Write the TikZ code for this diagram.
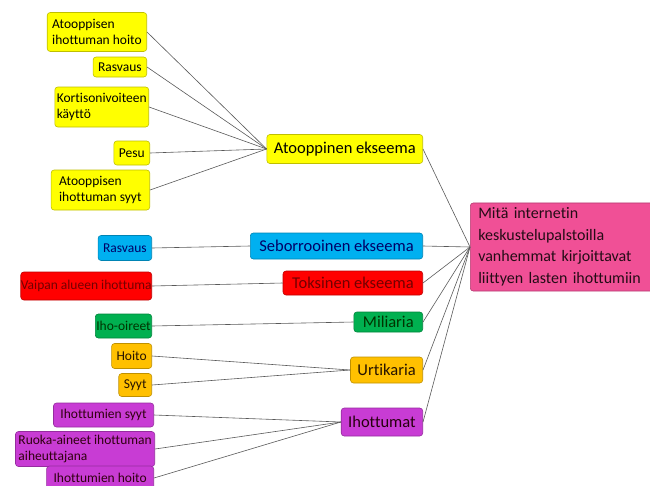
\documentclass[tikz,border=0pt]{standalone}
\usepackage{fontspec}
\setmainfont{Carlito}[Ligatures=NoCommon]
\definecolor{cyel}{RGB}{255,255,0}
\definecolor{cblue}{RGB}{0,176,240}
\definecolor{cred}{RGB}{255,0,0}
\definecolor{cgreen}{RGB}{0,176,80}
\definecolor{corange}{RGB}{255,192,0}
\definecolor{cpurple}{RGB}{200,60,212}
\definecolor{cpink}{RGB}{240,80,150}
\begin{document}
\begin{tikzpicture}[x=1pt, y=-1pt,
    box/.style={rectangle, rounded corners=3pt, draw=#1!75!black, fill=#1, line width=0.6pt},
    leaf/.style={box=#1, anchor=east, align=left, inner xsep=5pt, inner ysep=3pt,
        minimum height=23pt, font=\fontsize{13.5}{16}\selectfont},
    topic/.style={box=#1, anchor=east, inner xsep=7pt, inner ysep=3pt,
        minimum height=26pt, font=\fontsize{16.5}{19}\selectfont},
    link/.style={-, line width=0.6pt, black!65}
]

\useasboundingbox (0,0) rectangle (650,485);

% Main question
\node[box=cpink, anchor=west, align=left, text width=178pt, inner xsep=8pt, inner ysep=5pt,
    font=\fontsize{16}{21.5}\selectfont, text=black!85!cpink] (Q) at (470,247)
    {Mitä internetin\\keskustelupalstoilla\\vanhemmat kirjoittavat\\liittyen lasten ihottumiin};

% Topics
\node[topic=cyel, minimum height=29pt] (T1) at (423,149) {Atooppinen ekseema};
\node[topic=cblue, text=blue!40!black, inner xsep=9pt] (T2) at (423,246) {Seborrooinen ekseema};
\node[topic=cred, text=red!45!black, minimum height=24pt, inner xsep=9pt] (T3) at (423,283) {Toksinen ekseema};
\node[topic=cgreen, text=black!80!green, minimum height=20pt, inner xsep=9pt] (T4) at (423,322) {Miliaria};
\node[topic=corange, text=black!85!orange] (T5) at (423,370) {Urtikaria};
\node[topic=cpurple, text=black!80!purple, minimum height=28pt] (T6) at (423,422) {Ihottumat};

% Atooppinen ekseema
\node[leaf=cyel, minimum height=39pt] (A1) at (147,32) {Atooppisen\\ihottuman hoito};
\node[leaf=cyel, minimum height=20pt] (A2) at (147,67) {Rasvaus};
\node[leaf=cyel, minimum height=40pt, inner xsep=2pt] (A3) at (149,107) {Kortisonivoiteen\\käyttö};
\node[leaf=cyel, minimum height=24pt] (A4) at (150,153) {Pesu};
\node[leaf=cyel, minimum height=40pt, inner xsep=8pt] (A5) at (150,190) {Atooppisen\\ihottuman syyt};

% Other topics
\node[leaf=cblue, text=blue!40!black, minimum height=25pt] (B1) at (152,248) {Rasvaus};
\node[leaf=cred, text=red!45!black, minimum height=28pt, inner xsep=0pt] (C1) at (152,286) {Vaipan alueen ihottuma};
\node[leaf=cgreen, text=black!80!green, minimum height=24pt, inner xsep=1pt] (D1) at (152,326) {Iho-oireet};
\node[leaf=corange, text=black!85!orange, minimum height=25pt] (E1) at (152,356) {Hoito};
\node[leaf=corange, text=black!85!orange] (E2) at (152,385) {Syyt};
\node[leaf=cpurple, text=black!75!purple, minimum height=24pt, inner xsep=7pt] (F1) at (154,415) {Ihottumien syyt};
\node[leaf=cpurple, text=black!75!purple, minimum height=35pt, inner xsep=3pt] (F2) at (155,449) {Ruoka-aineet ihottuman\\aiheuttajana};
\node[leaf=cpurple, text=black!75!purple, minimum height=24pt, inner xsep=7pt] (F3) at (154,478) {Ihottumien hoito};

% Links to topics
\foreach \n in {A1,A2,A3,A4,A5} {
    \draw[link] (\n.east) -- (T1.west);
}
\draw[link] (B1.east) -- (T2.west);
\draw[link] (C1.east) -- (T3.west);
\draw[link] (D1.east) -- (T4.west);
\draw[link] (E1.east) -- (T5.west);
\draw[link] (E2.east) -- (T5.west);
\foreach \n in {F1,F2,F3} {
    \draw[link] (\n.east) -- (T6.west);
}

% Links to question
\foreach \n in {T1,T2,T3,T4,T5,T6} {
    \draw[link] (\n.east) -- (Q.west);
}

\end{tikzpicture}
\end{document}
